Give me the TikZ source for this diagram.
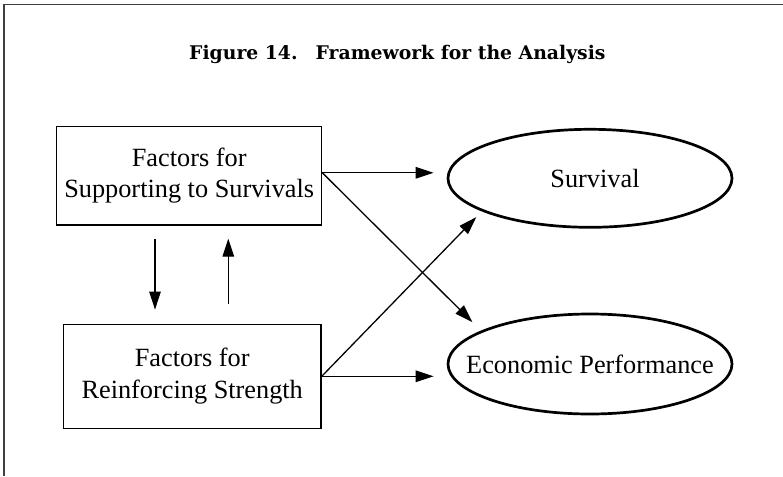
\documentclass[tikz,border=0pt]{standalone}
\usepackage{fontspec}
\setmainfont{Liberation Serif}
\newfontfamily\titlefont{DejaVu Serif}
\usetikzlibrary{shapes.geometric,arrows.meta}

\begin{document}
\begin{tikzpicture}[x=1pt,y=-1pt,
  txt/.style={font=\fontsize{26.3}{31.5}\selectfont},
  box/.style={draw, line width=1.4pt, inner sep=0pt, align=center, txt},
  oval/.style={draw, ellipse, line width=2.7pt, inner sep=0pt,
    minimum width=284pt, minimum height=98pt, txt},
  arr/.style={-{Triangle[length=18pt,width=11.5pt]}, line width=1.3pt}]
\useasboundingbox (0,0) rectangle (783,476);

% frame edges
\draw[black!75, line width=1.5pt] (4,476) -- (4,4.5) -- (783,4.5);

% heading
\node[font=\titlefont\bfseries\fontsize{18.8}{20}\selectfont,
  anchor=base west, inner sep=0pt] (title) at (189,60)
  {Figure 14.\hspace{18pt}Framework for the Analysis};

% factor boxes
\node[box, minimum width=265pt, minimum height=98.3pt] (supp) at (189.2,175.8)
  {Factors for\\Supporting to Survivals};
\node[box, minimum width=257.7pt, minimum height=104pt] (rein) at (192.2,376.3)
  {Factors for\\Reinforcing Strength};

% outcome ovals (fixed size, text does not widen them)
\node[oval] (surv) at (590,178.3) {\makebox[0pt]{\hspace{10pt}Survival}};
\node[oval, minimum height=100pt] (econ) at (590,364)
  {\makebox[0pt]{Economic Performance}};

% links between the factors
\draw[arr, shorten <=13pt, shorten >=14pt]
  ([xshift=-34.2pt]supp.south) -- ([xshift=-37.2pt]rein.north);
\draw[arr, shorten <=20pt, shorten >=13pt]
  ([xshift=36.1pt]rein.north) -- ([xshift=39.1pt]supp.south);

% links to the outcomes
\draw[arr, shorten >=13pt] ([yshift=3pt]supp.east) -- ([yshift=3pt]supp.east -| surv.west);
\draw[arr, shorten >=12pt] ([yshift=3pt]supp.east) -- (econ.163.5);
\draw[arr, shorten >=13pt] (rein.east) -- (rein.east -| econ.west);
\draw[arr, shorten >=8pt] (rein.east) -- (surv.197.6);
\end{tikzpicture}
\end{document}
